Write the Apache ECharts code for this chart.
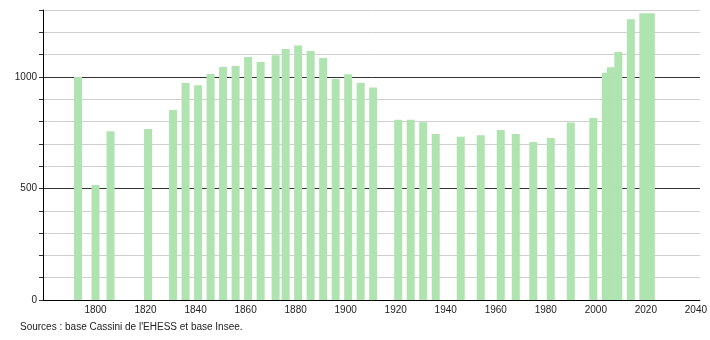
<!DOCTYPE html>
<html>
<head>
<meta charset="utf-8">
<script src="https://cdn.jsdelivr.net/npm/echarts@6/dist/echarts.min.js"></script>
<style>
html,body{margin:0;padding:0;background:#fff;}
#c{width:710px;height:340px;}
</style>
</head>
<body>
<div id="c"></div>
<script>
var years = [1793,1800,1806,1821,1831,1836,1841,1846,1851,1856,1861,1866,1872,1876,1881,1886,1891,1896,1901,1906,1911,1921,1926,1931,1936,1946,1954,1962,1968,1975,1982,1990,1999,2004,2006,2009,2014,2019,2022];
var population = [1000,515,757,766,852,973,963,1013,1044,1049,1089,1067,1097,1125,1141,1116,1085,991,1012,973,953,808,808,797,744,732,738,762,744,708,726,796,816,1019,1043,1112,1258,1285,1285];
var xTickLabels = [1800,1820,1840,1860,1880,1900,1920,1940,1960,1980,2000,2020,2040];
var yMajorLabels = [0,500,1000];
var sourceText = "Sources : base Cassini de l'EHESS et base Insee.";

var data = years.map(function(y, i){ return [y, population[i]]; });
function plain(v){ return String(Math.round(v)); }

var chart = echarts.init(document.getElementById('c'), null, {renderer:'canvas'});
chart.setOption({
  animation: false,
  backgroundColor: '#fff',
  textStyle: {fontFamily: 'Liberation Sans, Arial, sans-serif'},
  grid: {left: 43, right: 9, top: 10, bottom: 40, containLabel: false},
  xAxis: {
    type: 'value', min: 1779, max: 2041.6,
    axisLine: {show: true, lineStyle: {color: '#000', width: 1}},
    axisTick: {show: false},
    splitLine: {show: false},
    axisLabel: {
      customValues: xTickLabels,
      formatter: plain,
      fontSize: 10, color: '#222', margin: 5,
      fontFamily: 'Liberation Sans, Arial, sans-serif'
    }
  },
  yAxis: [{
    type: 'value', min: 0, max: 1300, interval: 100,
    axisLine: {show: true, lineStyle: {color: '#000', width: 1}},
    axisTick: {show: true, length: 4, lineStyle: {color: '#333'}},
    axisLabel: {show: false},
    splitLine: {show: true, lineStyle: {color: '#cfcfcf', width: 1}}
  }, {
    type: 'value', min: 0, max: 1300, interval: 500, position: 'left',
    axisLine: {show: false},
    axisTick: {show: false},
    axisLabel: {
      customValues: yMajorLabels,
      formatter: plain,
      fontSize: 10, color: '#222', margin: 6,
      fontFamily: 'Liberation Sans, Arial, sans-serif'
    },
    splitLine: {show: true, showMinLine: false, showMaxLine: false, lineStyle: {color: '#333', width: 1}}
  }],
  series: [{
    type: 'bar',
    yAxisIndex: 0,
    data: data,
    barWidth: 8,
    itemStyle: {color: '#afe3af'},
    z: 3
  }],
  graphic: [{
    type: 'text', left: 20, top: 322,
    style: {text: sourceText, fontSize: 10, fill: '#222', fontFamily: 'Liberation Sans, Arial, sans-serif'}
  }]
});
</script>
</body>
</html>
